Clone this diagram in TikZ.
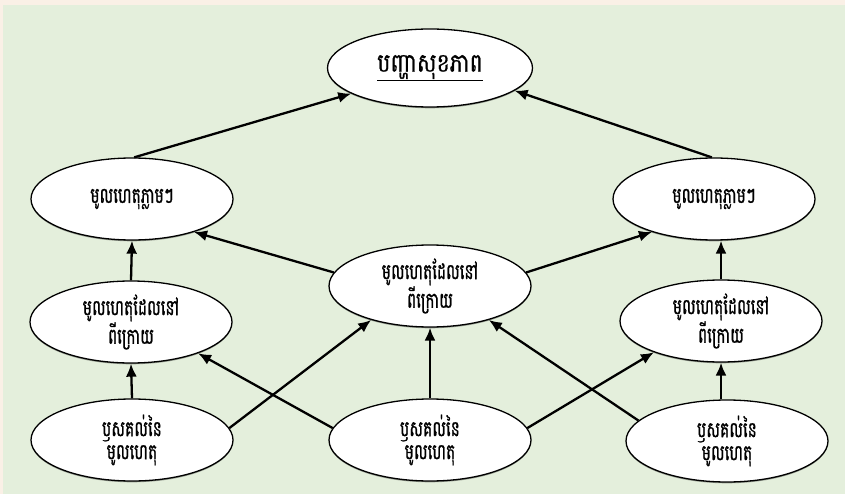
\documentclass[tikz,border=0pt]{standalone}
\usepackage{fontspec}
\newfontfamily\khmer[Script=Khmer, FakeStretch=0.7, FakeBold=1.0]{Battambang}
\newfontfamily\khmertitle[Script=Khmer, FakeStretch=0.85, FakeBold=0.8]{Battambang}
\usetikzlibrary{shapes.geometric,arrows.meta,shadows}
\definecolor{pagebg}{HTML}{FAF0E6}
\definecolor{panelbg}{HTML}{E4EFDC}
\tikzset{
  cause/.style={ellipse, draw=black, line width=1.3pt, fill=white,
    minimum width=202pt, minimum height=82pt, inner sep=0pt,
    align=center, font=\khmer\fontsize{22pt}{23pt}\selectfont,
    drop shadow={shadow xshift=0pt, shadow yshift=-1.3pt, opacity=0.35, fill=black}},
  link/.style={line width=2.3pt, -{Latex[length=13pt,width=11pt]}}
}
\begin{document}
\begin{tikzpicture}[x=1pt,y=-1pt]
  % page and panel
  \fill[pagebg] (0,0) rectangle (845,494);
  \fill[panelbg] (3,5) rectangle (845,494);
  \useasboundingbox (0,0) rectangle (845,494);

  % problem at the top
  \node[cause, minimum width=205pt, minimum height=78pt,
        font=\khmertitle\fontsize{26pt}{28pt}\selectfont] (prob) at (430,68) {\underline{បញ្ហាសុខភាព}};

  % immediate causes
  \node[cause] (imL) at (132,199) {មូលហេតុភ្លាមៗ};
  \node[cause] (imR) at (714,199) {មូលហេតុភ្លាមៗ};

  % underlying causes
  \node[cause] (unC) at (430,286) {មូលហេតុដែលនៅ\\ពីក្រោយ};
  \node[cause] (unL) at (131,322) {មូលហេតុដែលនៅ\\ពីក្រោយ};
  \node[cause] (unR) at (721,321) {មូលហេតុដែលនៅ\\ពីក្រោយ};

  % root causes
  \node[cause] (rtL) at (132,440) {ឫសគល់នៃ\\មូលហេតុ};
  \node[cause] (rtC) at (430,440) {ឫសគល់នៃ\\មូលហេតុ};
  \node[cause] (rtR) at (727,441) {ឫសគល់នៃ\\មូលហេតុ};

  % immediate -> problem
  \draw[link] (imL.87) -- (prob.198);
  \draw[link] (imR.93) -- (prob.-15);

  % underlying -> immediate
  \draw[link] (unC.172) -- (imL.-28);
  \draw[link] (unC.8) -- (imR.208);
  \draw[link] (unL.north) -- (imL.south);
  \draw[link] (unR.north) -- (unR.north |- imR.south);

  % root -> underlying
  \draw[link] (rtL.north) -- (unL.south);
  \draw[link] (unR.south |- rtR.north) -- (unR.south);
  \draw[link] (rtC.north) -- (unC.south);
  \draw[link] (rtL.7) -- (unC.210);
  \draw[link] (rtC.173) -- (unL.-25);
  \draw[link] (rtC.7) -- (unR.205);
  \draw[link] (rtR.167) -- (unC.-30);
\end{tikzpicture}
\end{document}
